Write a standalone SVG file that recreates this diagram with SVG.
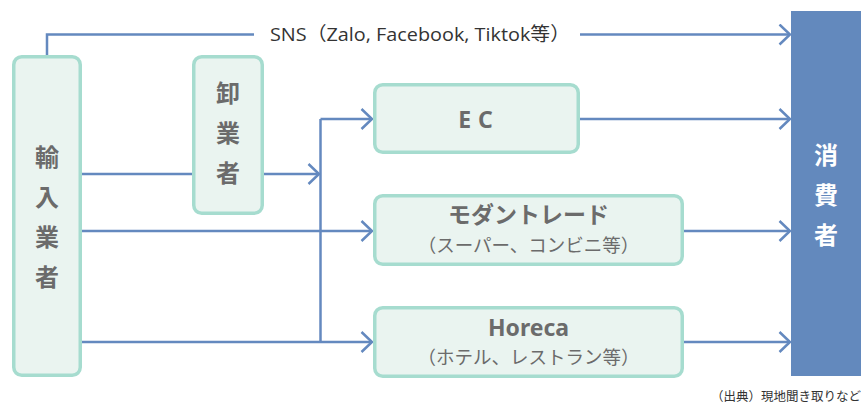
<svg xmlns="http://www.w3.org/2000/svg" width="861" height="405" viewBox="0 0 861 405">
<style>
.box{fill:#eaf4f0;stroke:#a6dccf;stroke-width:3.5}
.ln{fill:none;stroke:#6489bf;stroke-width:2.5}
.k{font-family:"Noto Sans CJK JP","Noto Sans",sans-serif;font-weight:bold;font-size:24px;fill:#6b6b6b;text-anchor:middle}
.w{fill:#ffffff}
.t{font-family:"Noto Sans","Noto Sans CJK JP",sans-serif;font-weight:bold;font-size:23px;fill:#6b6b6b;text-anchor:middle}
.s{font-family:"Noto Sans CJK JP",sans-serif;font-size:18.5px;fill:#6b6b6b;text-anchor:middle}
.sns{font-family:"Open Sans","Noto Sans CJK JP",sans-serif;font-size:19px;fill:#333333}
.src{font-family:"Noto Sans CJK JP",sans-serif;font-size:12.5px;fill:#333333}
</style>
<defs>
<marker id="arr" markerUnits="userSpaceOnUse" markerWidth="16" markerHeight="24" refX="12" refY="11" orient="auto">
<path d="M1.5,1 L12,11 L1.5,21" fill="none" stroke="#6489bf" stroke-width="2.5"/>
</marker>
</defs>
<g id="connectors">
<path class="ln" d="M47,55 V34.5 H254"/>
<path class="ln" d="M580,34.5 H790" marker-end="url(#arr)"/>
<path class="ln" d="M82,174 H193"/>
<path class="ln" d="M264,174 H319" marker-end="url(#arr)"/>
<path class="ln" d="M320.5,119 V342"/>
<path class="ln" d="M320.5,119 H372" marker-end="url(#arr)"/>
<path class="ln" d="M82,231 H372" marker-end="url(#arr)"/>
<path class="ln" d="M82,342 H372" marker-end="url(#arr)"/>
<path class="ln" d="M580,119 H790" marker-end="url(#arr)"/>
<path class="ln" d="M684,231 H790" marker-end="url(#arr)"/>
<path class="ln" d="M684,342 H790" marker-end="url(#arr)"/>
<text class="sns" x="270" y="41" textLength="300" lengthAdjust="spacingAndGlyphs">SNS（Zalo, Facebook, Tiktok等）</text>
</g>
<g id="importer">
<rect class="box" x="13.75" y="56.75" width="66.5" height="318.5" rx="8"/>
<text class="k" x="47" y="166">輸</text>
<text class="k" x="47" y="206">入</text>
<text class="k" x="47" y="246">業</text>
<text class="k" x="47" y="286">者</text>
</g>
<g id="wholesaler">
<rect class="box" x="193.75" y="56.75" width="68.5" height="156.5" rx="8"/>
<text class="k" x="228" y="102">卸</text>
<text class="k" x="228" y="142">業</text>
<text class="k" x="228" y="182">者</text>
</g>
<g id="ec">
<rect class="box" x="374.75" y="84.75" width="203.5" height="67.5" rx="8"/>
<text class="t" x="479" y="128" letter-spacing="7" font-size="25">EC</text>
</g>
<g id="modern-trade">
<rect class="box" x="374.75" y="195.75" width="307.5" height="68.5" rx="8"/>
<text class="t" x="528.5" y="223">モダントレード</text>
<text class="s" x="528.5" y="252">（スーパー、コンビニ等）</text>
</g>
<g id="horeca">
<rect class="box" x="374.75" y="307.75" width="307.5" height="68.5" rx="8"/>
<text class="t" x="528.5" y="336" font-size="24">Horeca</text>
<text class="s" x="528.5" y="364">（ホテル、レストラン等）</text>
</g>
<g id="consumer">
<rect x="791" y="11" width="70" height="365" fill="#6389bd"/>
<text class="k w" x="826" y="164">消</text>
<text class="k w" x="826" y="204">費</text>
<text class="k w" x="826" y="244">者</text>
</g>
<text class="src" x="861" y="401" text-anchor="end">（出典）現地聞き取りなど</text>
</svg>
